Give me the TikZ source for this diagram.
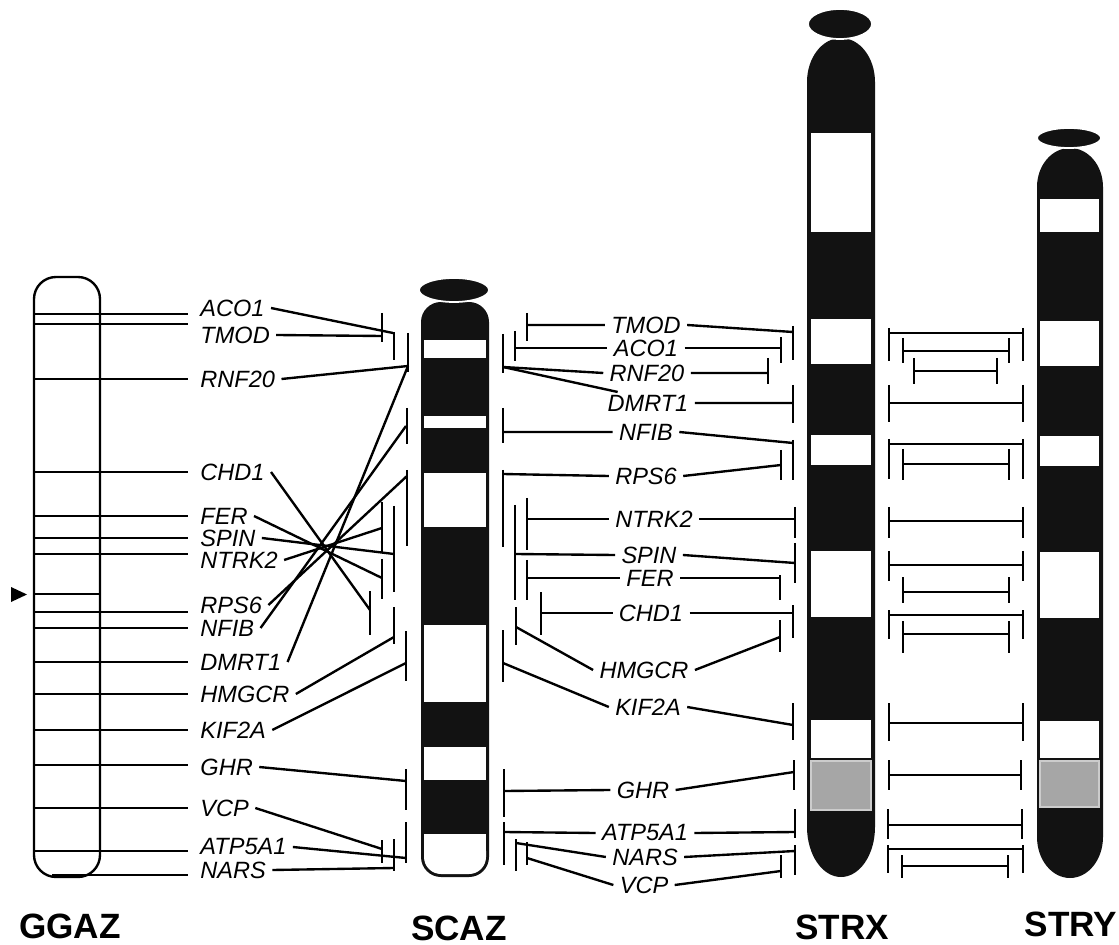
\documentclass[tikz,border=0pt]{standalone}
\usepackage{fontspec}
\setmainfont{Liberation Sans}
\begin{document}
\begin{tikzpicture}[x=0.02cm,y=-0.02cm,line width=1.35pt,
  gene/.style={font=\itshape\fontsize{13.4}{15}\selectfont,inner xsep=3pt,inner ysep=1pt},
  chrname/.style={font=\bfseries\fontsize{20}{24}\selectfont},
  chrom/.style={fill=black!93},
  hole/.style={fill=white},
  cband/.style={fill=black!35,draw=black!20,line width=0.8pt},
  pair/.style={line width=1.15pt}]
\useasboundingbox (0,0) rectangle (1119,945);

% GGAZ
\draw[rounded corners=0.44cm] (34,277) rectangle (100,877);
\foreach \y in {314,324,379,472,516,538,554,612,628,662,694,730,765,808,851}
  \draw (34,\y) -- (188,\y);
\draw (34,594) -- (100,594);
\draw (52,875) -- (188,875);
\fill (11,587) -- (27,594.5) -- (11,602) -- cycle;

\node[gene,anchor=west] (gACO) at (194,308) {ACO1};
\node[gene,anchor=west] (gTMOD) at (194,335) {TMOD};
\node[gene,anchor=west] (gRNF) at (194,379) {RNF20};
\node[gene,anchor=west] (gCHD) at (194,472) {CHD1};
\node[gene,anchor=west] (gFER) at (194,516) {FER};
\node[gene,anchor=west] (gSPIN) at (194,538) {SPIN};
\node[gene,anchor=west] (gNTRK) at (194,560) {NTRK2};
\node[gene,anchor=west] (gRPS) at (194,605) {RPS6};
\node[gene,anchor=west] (gNFIB) at (194,628) {NFIB};
\node[gene,anchor=west] (gDMRT) at (194,662) {DMRT1};
\node[gene,anchor=west] (gHMG) at (194,694) {HMGCR};
\node[gene,anchor=west] (gKIF) at (194,730) {KIF2A};
\node[gene,anchor=west] (gGHR) at (194,767) {GHR};
\node[gene,anchor=west] (gVCP) at (194,808) {VCP};
\node[gene,anchor=west] (gATP) at (194,847) {ATP5A1};
\node[gene,anchor=west] (gNARS) at (194,870) {NARS};

% bars left of SCAZ
\foreach \x/\a/\b in {382/313/342,394/332/360,408/333/372,407/408/444,407/470/546,
    382/502/552,394/506/592,382/559/599,370/591/635,394/607/644,406/631/681,
    406/769/810,406/822/863,382/840/863,394/839/871}
  \draw (\x,\a) -- (\x,\b);
\draw (gACO.east) -- (393,333);
\draw (gTMOD.east) -- (382,336);
\draw (gRNF.east) -- (408,366);
\draw (gCHD.east) -- (370,610);
\draw (gFER.east) -- (382,578);
\draw (gSPIN.east) -- (394,554);
\draw (gNTRK.east) -- (382,528);
\draw (gRPS.east) -- (407,476);
\draw (gNFIB.east) -- (406,426);
\draw (gDMRT.east) -- (408,366);
\draw (gHMG.east) -- (394,637);
\draw (gKIF.east) -- (406,663);
\draw (gGHR.east) -- (406,781);
\draw (gVCP.east) -- (382,849);
\draw (gATP.east) -- (406,858);
\draw (gNARS.east) -- (394,868);

% SCAZ
\fill[chrom,rounded corners=0.4cm] (421,302) rectangle (489,877);
\foreach \a/\b in {340/358,416/428,473/527,625/702,747/780}
  \fill[hole] (424,\a) rectangle (486,\b);
\fill[hole,rounded corners=0.34cm] (424,834) rectangle (486,874);
\fill[hole] (424,834) rectangle (486,852);
\filldraw[chrom,draw=white,line width=1pt] (454,290) ellipse [x radius=35,y radius=12];

% genes between SCAZ and STRX
\node[gene] (sTMOD) at (646,325) {TMOD};
\node[gene] (sACO) at (646,348) {ACO1};
\node[gene] (sRNF) at (647,373) {RNF20};
\node[gene] (sDMRT) at (648,403) {DMRT1};
\node[gene] (sNFIB) at (646,432) {NFIB};
\node[gene] (sRPS) at (646,476) {RPS6};
\node[gene] (sNTRK) at (654,519) {NTRK2};
\node[gene] (sSPIN) at (649,555) {SPIN};
\node[gene] (sFER) at (650,578) {FER};
\node[gene] (sCHD) at (651,613) {CHD1};
\node[gene] (sHMG) at (644,670) {HMGCR};
\node[gene] (sKIF) at (648,707) {KIF2A};
\node[gene] (sGHR) at (643,790) {GHR};
\node[gene] (sATP) at (645,833) {ATP5A1};
\node[gene] (sNARS) at (645,857) {NARS};
\node[gene] (sVCP) at (644,885) {VCP};

\foreach \x/\a/\b in {527/313/341,515/331/361,503/334/373,503/408/443,503/470/547,
    527/498/550,515/505/600,527/560/600,541/592/635,516/607/645,503/630/682,
    504/769/817,504/822/865,516/839/871,527/842/865,
    793/326/360,781/337/363,768/358/384,793/385/423,793/440/480,781/450/480,
    795/507/538,795/543/583,780/575/600,793/605/638,780/620/652,793/703/740,
    794/760/790,795/809/838,795/845/875,781/855/878}
  \draw (\x,\a) -- (\x,\b);
\draw (527,325) -- (sTMOD.west) (sTMOD.east) -- (793,332);
\draw (515,348) -- (sACO.west) (sACO.east) -- (781,348);
\draw (503,367) -- (sRNF.west) (sRNF.east) -- (768,373);
\draw (503,367) -- (sDMRT.160) (sDMRT.east) -- (793,403);
\draw (503,432) -- (sNFIB.west) (sNFIB.east) -- (793,443);
\draw (503,474) -- (sRPS.west) (sRPS.east) -- (781,465);
\draw (527,519) -- (sNTRK.west) (sNTRK.east) -- (795,519);
\draw (515,554) -- (sSPIN.west) (sSPIN.east) -- (795,563);
\draw (527,578) -- (sFER.west) (sFER.east) -- (780,578);
\draw (541,613) -- (sCHD.west) (sCHD.east) -- (793,613);
\draw (516,627) -- (sHMG.west) (sHMG.east) -- (780,637);
\draw (503,663) -- (sKIF.west) (sKIF.east) -- (793,725);
\draw (504,791) -- (sGHR.west) (sGHR.east) -- (794,772);
\draw (504,832) -- (sATP.west) (sATP.east) -- (795,832);
\draw (516,843) -- (sNARS.west) (sNARS.east) -- (795,851);
\draw (527,858) -- (sVCP.west) (sVCP.east) -- (781,871);

% STRX
\fill[chrom] (807,82) arc[start angle=180,end angle=360,x radius=34,y radius=44]
  -- (875,827) arc[start angle=0,end angle=180,x radius=34,y radius=50] -- cycle;
\foreach \a/\b in {133/232,319/364,435/465,551/617,720/758}
  \fill[hole] (811,\a) rectangle (871,\b);
\filldraw[cband] (811,761) rectangle (871,810);
\filldraw[chrom,draw=white,line width=1pt] (840,24) ellipse [x radius=32,y radius=15];

% STRY
\fill[chrom] (1037,187) arc[start angle=180,end angle=360,x radius=33,y radius=39]
  -- (1103,837) arc[start angle=0,end angle=180,x radius=33,y radius=41] -- cycle;
\foreach \a/\b in {199/232,321/366,436/466,552/618,721/758}
  \fill[hole] (1040,\a) rectangle (1099,\b);
\filldraw[cband] (1040,761) rectangle (1099,807);
\filldraw[chrom,draw=white,line width=1pt] (1069,138) ellipse [x radius=32,y radius=10];

% pairs between STRX and STRY
\foreach \l/\r/\y/\a/\b in {889/1023/333/328/361,903/1009/351/338/363,914/997/371/358/384,
    889/1023/403/385/422,889/1023/444/439/479,903/1009/464/449/480,889/1023/521/507/538,
    889/1023/565/551/581,903/1009/592/577/603,889/1023/615/610/639,903/1009/634/621/653,
    889/1023/723/703/741,889/1021/775/760/790,888/1022/825/809/839,888/1023/849/845/873,
    902/1008/866/855/878}
  \draw[pair] (\l,\a) -- (\l,\b) (\l,\y) -- (\r,\y) (\r,\a) -- (\r,\b);

\node[chrname] (tGGAZ) at (70,926) {GGAZ};
\node[chrname] (tSCAZ) at (459,928) {SCAZ};
\node[chrname] (tSTRX) at (842,927) {STRX};
\node[chrname] (tSTRY) at (1071,924) {STRY};
\end{tikzpicture}
\end{document}
